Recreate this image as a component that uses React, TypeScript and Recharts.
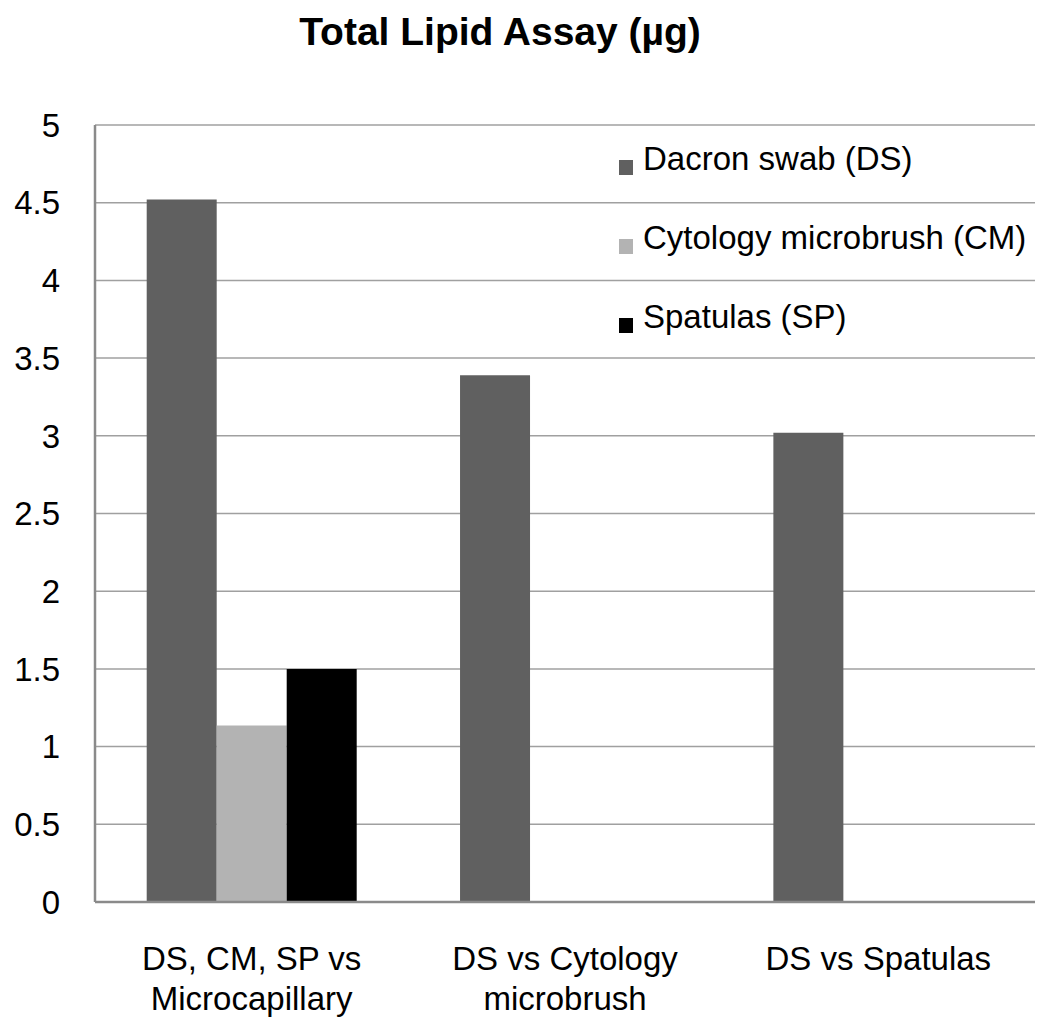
import React from 'react';
import { BarChart, Bar, XAxis, YAxis, CartesianGrid, Legend } from 'recharts';

const categories = ['DS, CM, SP vs\nMicrocapillary', 'DS vs Cytology\nmicrobrush', 'DS vs Spatulas'];
const dacronSwab = [4.52, 3.39, 3.02];
const cytologyMicrobrush: (number | null)[] = [1.135, null, null];
const spatulas: (number | null)[] = [1.5, null, null];
const yTicks = [0, 0.5, 1, 1.5, 2, 2.5, 3, 3.5, 4, 4.5, 5];

const seriesNames = ['Dacron swab (DS)', 'Cytology microbrush (CM)', 'Spatulas (SP)'];
const seriesColors = ['#606060', '#b3b3b3', '#000000'];

const data = categories.map((c, i) => ({
  category: c,
  ds: dacronSwab[i],
  cm: cytologyMicrobrush[i],
  sp: spatulas[i],
}));

const FONT = '"Liberation Sans", Arial, Helvetica, sans-serif';

const XTick = (props: any) => {
  const { x, y, payload } = props;
  const lines = String(payload.value).split('\n');
  return (
    <text x={x} y={y} textAnchor="middle" fontSize={33} fontFamily={FONT} fill="#000">
      {lines.map((l: string, i: number) => (
        <tspan key={i} x={x} dy={i === 0 ? 60 : 40}>{l}</tspan>
      ))}
    </text>
  );
};

const LegendContent = (props: any) => {
  const payload = [...(props.payload || [])].sort(
    (a: any, b: any) => seriesNames.indexOf(a.value) - seriesNames.indexOf(b.value)
  );
  return (
    <div style={{ fontFamily: FONT, textAlign: 'left' }}>
      {payload.map((p: any, i: number) => (
        <div key={i} style={{ position: 'relative', height: 79, width: 420 }}>
          <div style={{ position: 'absolute', left: 0, top: 20, width: 14, height: 15, background: p.color }} />
          <div style={{ position: 'absolute', left: 24, top: 0, fontSize: 33, lineHeight: '38px', color: '#000', whiteSpace: 'nowrap' }}>{p.value}</div>
        </div>
      ))}
    </div>
  );
};

export default function App() {
  return (
    <div style={{ position: 'absolute', left: 0, top: 0, width: 1050, height: 1027, background: '#fff' }}>
      <div style={{ position: 'absolute', left: 0, top: 12, width: 1000, textAlign: 'center', fontFamily: FONT, fontWeight: 'bold', fontSize: 39, lineHeight: '39px', color: '#000' }}>
        Total Lipid Assay (µg)
      </div>
      <BarChart
        width={1050}
        height={1027}
        data={data}
        margin={{ top: 125, right: 15, bottom: 95, left: 0 }}
        barCategoryGap="16.5%"
        barGap={0}
      >
        <CartesianGrid vertical={false} stroke="#a0a0a0" strokeWidth={1.5} />
        <XAxis
          dataKey="category"
          height={30}
          tickLine={false}
          axisLine={{ stroke: '#8a8a8a', strokeWidth: 2.5 }}
          tick={<XTick />}
          interval={0}
        />
        <YAxis
          width={95}
          domain={[0, 5]}
          ticks={yTicks}
          tickLine={false}
          axisLine={{ stroke: '#8a8a8a', strokeWidth: 2.5 }}
          tickMargin={29}
          tick={{ fontSize: 33, fontFamily: FONT, fill: '#000' }}
        />
        <Legend
          layout="horizontal"
          verticalAlign="middle"
          align="center"
          wrapperStyle={{ position: 'absolute', left: 619, top: 140, width: 420 }}
          content={<LegendContent />}
        />
        <Bar dataKey="ds" name={seriesNames[0]} fill={seriesColors[0]} isAnimationActive={false} />
        <Bar dataKey="cm" name={seriesNames[1]} fill={seriesColors[1]} isAnimationActive={false} />
        <Bar dataKey="sp" name={seriesNames[2]} fill={seriesColors[2]} isAnimationActive={false} />
      </BarChart>
    </div>
  );
}
